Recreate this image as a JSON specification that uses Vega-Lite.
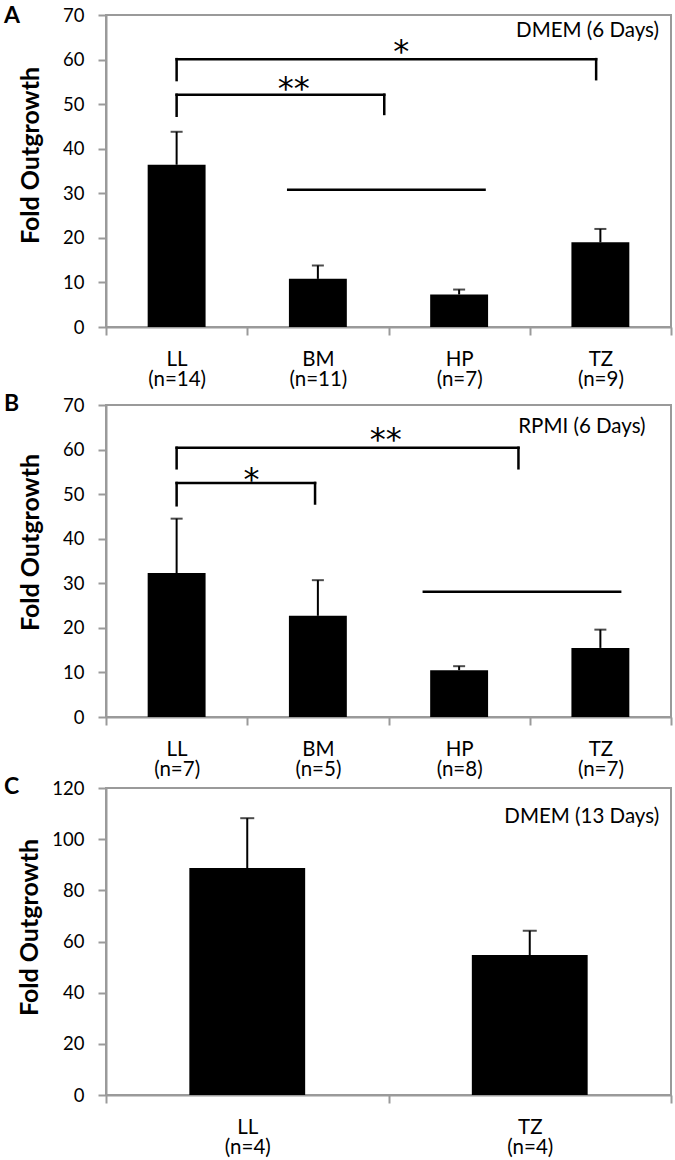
{
  "$schema": "https://vega.github.io/schema/vega-lite/v6.json",
  "padding": {"left": 3, "top": 4, "right": 5, "bottom": 0},
  "spacing": -6,
  "datasets": {
    "a_bars": [
      {"grp": "LL|(n=14)", "mean": 36.4, "upper": 43.8},
      {"grp": "BM|(n=11)", "mean": 10.8, "upper": 13.8},
      {"grp": "HP|(n=7)", "mean": 7.3, "upper": 8.4},
      {"grp": "TZ|(n=9)", "mean": 19.0, "upper": 22.0}
    ],
    "a_lines": [
      {"x": 0.5, "x2": 3.47, "y": 60.1, "y2": 60.1},
      {"x": 0.5, "x2": 0.5, "y": 60.1, "y2": 55.4},
      {"x": 3.47, "x2": 3.47, "y": 60.1, "y2": 55.6},
      {"x": 0.5, "x2": 1.97, "y": 52.1, "y2": 52.1},
      {"x": 0.5, "x2": 0.5, "y": 52.1, "y2": 47.4},
      {"x": 1.97, "x2": 1.97, "y": 52.1, "y2": 47.8},
      {"x": 1.29, "x2": 2.68, "y": 30.8, "y2": 30.8}
    ],
    "a_stars": [
      {"x": 2.09, "y": 63.9, "t": "*"},
      {"x": 1.33, "y": 55.6, "t": "**"}
    ],
    "a_label": [{"x": 3.915, "y": 66.3, "t": "DMEM (6 Days)"}],
    "b_bars": [
      {"grp": "LL|(n=7)", "mean": 32.3, "upper": 44.5},
      {"grp": "BM|(n=5)", "mean": 22.7, "upper": 30.7},
      {"grp": "HP|(n=8)", "mean": 10.5, "upper": 11.4},
      {"grp": "TZ|(n=7)", "mean": 15.5, "upper": 19.6}
    ],
    "b_lines": [
      {"x": 0.5, "x2": 2.92, "y": 60.4, "y2": 60.4},
      {"x": 0.5, "x2": 0.5, "y": 60.4, "y2": 55.8},
      {"x": 2.92, "x2": 2.92, "y": 60.4, "y2": 55.8},
      {"x": 0.5, "x2": 1.48, "y": 52.5, "y2": 52.5},
      {"x": 0.5, "x2": 0.5, "y": 52.5, "y2": 47.5},
      {"x": 1.48, "x2": 1.48, "y": 52.5, "y2": 47.9},
      {"x": 2.25, "x2": 3.64, "y": 28.1, "y2": 28.1}
    ],
    "b_stars": [
      {"x": 1.98, "y": 64.4, "t": "**"},
      {"x": 1.03, "y": 55.4, "t": "*"}
    ],
    "b_label": [{"x": 3.82, "y": 65.1, "t": "RPMI (6 Days)"}],
    "c_bars": [
      {"grp": "LL|(n=4)", "mean": 88.7, "upper": 108.2},
      {"grp": "TZ|(n=4)", "mean": 54.7, "upper": 64.2}
    ],
    "c_label": [{"x": 1.958, "y": 108.7, "t": "DMEM (13 Days)"}]
  },
  "config": {
    "font": "Lato",
    "view": {"stroke": "#9a9a9a", "strokeWidth": 2},
    "axis": {
      "domainColor": "#9a9a9a", "domainWidth": 2,
      "tickColor": "#9a9a9a", "tickWidth": 2, "tickSize": 8,
      "labelColor": "#000000", "labelFont": "Lato",
      "titleColor": "#000000", "titleFont": "Lato",
      "grid": false
    },
    "title": {"font": "Lato", "fontSize": 23, "fontWeight": "bold", "color": "#000000", "anchor": "start", "frame": "group"}
  },
  "vconcat": [
    {
      "spacing": 1,
      "vconcat": [
        {
          "width": 565, "height": 312,
          "title": {"text": "A", "dx": -102, "dy": 22, "offset": 0},
          "layer": [
            {
              "data": {"name": "a_bars"},
              "layer": [
                {"mark": {"type": "bar", "color": "#000000", "width": {"band": 0.41}},
                 "encoding": {
                   "x": {"field": "grp", "type": "nominal", "sort": null,
                         "scale": {"paddingInner": 0, "paddingOuter": 0},
                         "axis": {"title": null, "labelAngle": 0, "tickBand": "extent", "labelExpr": "split(datum.label, '|')", "labelFontSize": 20.5, "labelLineHeight": 20, "labelBaseline": "top", "labelPadding": 14}},
                   "y": {"field": "mean", "type": "quantitative",
                         "scale": {"domain": [0, 70], "nice": false},
                         "axis": {"title": "Fold Outgrowth", "values": [0, 10, 20, 30, 40, 50, 60, 70], "labelFontSize": 18.5, "labelPadding": 14, "titleFontSize": 25, "titleFontWeight": "bold", "titlePadding": 19, "titleY": 140}}
                 }},
                {"mark": {"type": "rule", "color": "#000000", "strokeWidth": 2},
                 "encoding": {"x": {"field": "grp", "type": "nominal", "sort": null}, "y": {"field": "mean", "type": "quantitative"}, "y2": {"field": "upper"}}},
                {"mark": {"type": "tick", "color": "#000000", "thickness": 2, "size": 12, "orient": "horizontal"},
                 "encoding": {"x": {"field": "grp", "type": "nominal", "sort": null}, "y": {"field": "upper", "type": "quantitative"}}}
              ]
            },
            {
              "layer": [
                {"data": {"name": "a_lines"},
                 "mark": {"type": "rule", "color": "#000000", "strokeWidth": 2.5, "strokeCap": "square"},
                 "encoding": {
                   "x": {"field": "x", "type": "quantitative", "scale": {"domain": [0, 4], "nice": false, "zero": false}, "axis": null},
                   "x2": {"field": "x2"},
                   "y": {"field": "y", "type": "quantitative"},
                   "y2": {"field": "y2"}
                 }},
                {"data": {"name": "a_stars"},
                 "mark": {"type": "text", "font": "DejaVu Sans", "fontSize": 32, "align": "center", "baseline": "middle", "dy": 10, "color": "#000000"},
                 "encoding": {
                   "x": {"field": "x", "type": "quantitative"},
                   "y": {"field": "y", "type": "quantitative"},
                   "text": {"field": "t"}
                 }},
                {"data": {"name": "a_label"},
                 "mark": {"type": "text", "fontSize": 20.5, "align": "right", "baseline": "middle", "color": "#000000"},
                 "encoding": {
                   "x": {"field": "x", "type": "quantitative"},
                   "y": {"field": "y", "type": "quantitative"},
                   "text": {"field": "t"}
                 }}
              ]
            }
          ],
          "resolve": {"scale": {"x": "independent"}}
        },
        {
          "width": 565, "height": 312,
          "title": {"text": "B", "dx": -102, "dy": 20, "offset": 0},
          "layer": [
            {
              "data": {"name": "b_bars"},
              "layer": [
                {"mark": {"type": "bar", "color": "#000000", "width": {"band": 0.41}},
                 "encoding": {
                   "x": {"field": "grp", "type": "nominal", "sort": null,
                         "scale": {"paddingInner": 0, "paddingOuter": 0},
                         "axis": {"title": null, "labelAngle": 0, "tickBand": "extent", "labelExpr": "split(datum.label, '|')", "labelFontSize": 20.5, "labelLineHeight": 20, "labelBaseline": "top", "labelPadding": 14}},
                   "y": {"field": "mean", "type": "quantitative",
                         "scale": {"domain": [0, 70], "nice": false},
                         "axis": {"title": "Fold Outgrowth", "values": [0, 10, 20, 30, 40, 50, 60, 70], "labelFontSize": 18.5, "labelPadding": 14, "titleFontSize": 25, "titleFontWeight": "bold", "titlePadding": 19, "titleY": 137}}
                 }},
                {"mark": {"type": "rule", "color": "#000000", "strokeWidth": 2},
                 "encoding": {"x": {"field": "grp", "type": "nominal", "sort": null}, "y": {"field": "mean", "type": "quantitative"}, "y2": {"field": "upper"}}},
                {"mark": {"type": "tick", "color": "#000000", "thickness": 2, "size": 12, "orient": "horizontal"},
                 "encoding": {"x": {"field": "grp", "type": "nominal", "sort": null}, "y": {"field": "upper", "type": "quantitative"}}}
              ]
            },
            {
              "layer": [
                {"data": {"name": "b_lines"},
                 "mark": {"type": "rule", "color": "#000000", "strokeWidth": 2.5, "strokeCap": "square"},
                 "encoding": {
                   "x": {"field": "x", "type": "quantitative", "scale": {"domain": [0, 4], "nice": false, "zero": false}, "axis": null},
                   "x2": {"field": "x2"},
                   "y": {"field": "y", "type": "quantitative"},
                   "y2": {"field": "y2"}
                 }},
                {"data": {"name": "b_stars"},
                 "mark": {"type": "text", "font": "DejaVu Sans", "fontSize": 32, "align": "center", "baseline": "middle", "dy": 10, "color": "#000000"},
                 "encoding": {
                   "x": {"field": "x", "type": "quantitative"},
                   "y": {"field": "y", "type": "quantitative"},
                   "text": {"field": "t"}
                 }},
                {"data": {"name": "b_label"},
                 "mark": {"type": "text", "fontSize": 20.5, "align": "right", "baseline": "middle", "color": "#000000"},
                 "encoding": {
                   "x": {"field": "x", "type": "quantitative"},
                   "y": {"field": "y", "type": "quantitative"},
                   "text": {"field": "t"}
                 }}
              ]
            }
          ],
          "resolve": {"scale": {"x": "independent"}}
        }
      ]
    },
    {
      "width": 565, "height": 307,
      "title": {"text": "C", "dx": -102, "dy": 20, "offset": 0},
      "layer": [
        {
          "data": {"name": "c_bars"},
          "layer": [
            {"mark": {"type": "bar", "color": "#000000", "width": {"band": 0.41}},
             "encoding": {
               "x": {"field": "grp", "type": "nominal", "sort": null,
                     "scale": {"paddingInner": 0, "paddingOuter": 0},
                     "axis": {"title": null, "labelAngle": 0, "tickBand": "extent", "labelExpr": "split(datum.label, '|')", "labelFontSize": 20.5, "labelLineHeight": 20, "labelBaseline": "top", "labelPadding": 14}},
               "y": {"field": "mean", "type": "quantitative",
                     "scale": {"domain": [0, 120], "nice": false},
                     "axis": {"title": "Fold Outgrowth", "values": [0, 20, 40, 60, 80, 100, 120], "labelFontSize": 18.5, "labelPadding": 14, "titleFontSize": 25, "titleFontWeight": "bold", "titlePadding": 9, "titleY": 139}}
             }},
            {"mark": {"type": "rule", "color": "#000000", "strokeWidth": 2},
             "encoding": {"x": {"field": "grp", "type": "nominal", "sort": null}, "y": {"field": "mean", "type": "quantitative"}, "y2": {"field": "upper"}}},
            {"mark": {"type": "tick", "color": "#000000", "thickness": 2, "size": 14, "orient": "horizontal"},
             "encoding": {"x": {"field": "grp", "type": "nominal", "sort": null}, "y": {"field": "upper", "type": "quantitative"}}}
          ]
        },
        {
          "data": {"name": "c_label"},
          "mark": {"type": "text", "fontSize": 20.5, "align": "right", "baseline": "middle", "color": "#000000"},
          "encoding": {
            "x": {"field": "x", "type": "quantitative", "scale": {"domain": [0, 2], "nice": false, "zero": false}, "axis": null},
            "y": {"field": "y", "type": "quantitative"},
            "text": {"field": "t"}
          }
        }
      ],
      "resolve": {"scale": {"x": "independent"}}
    }
  ]
}
